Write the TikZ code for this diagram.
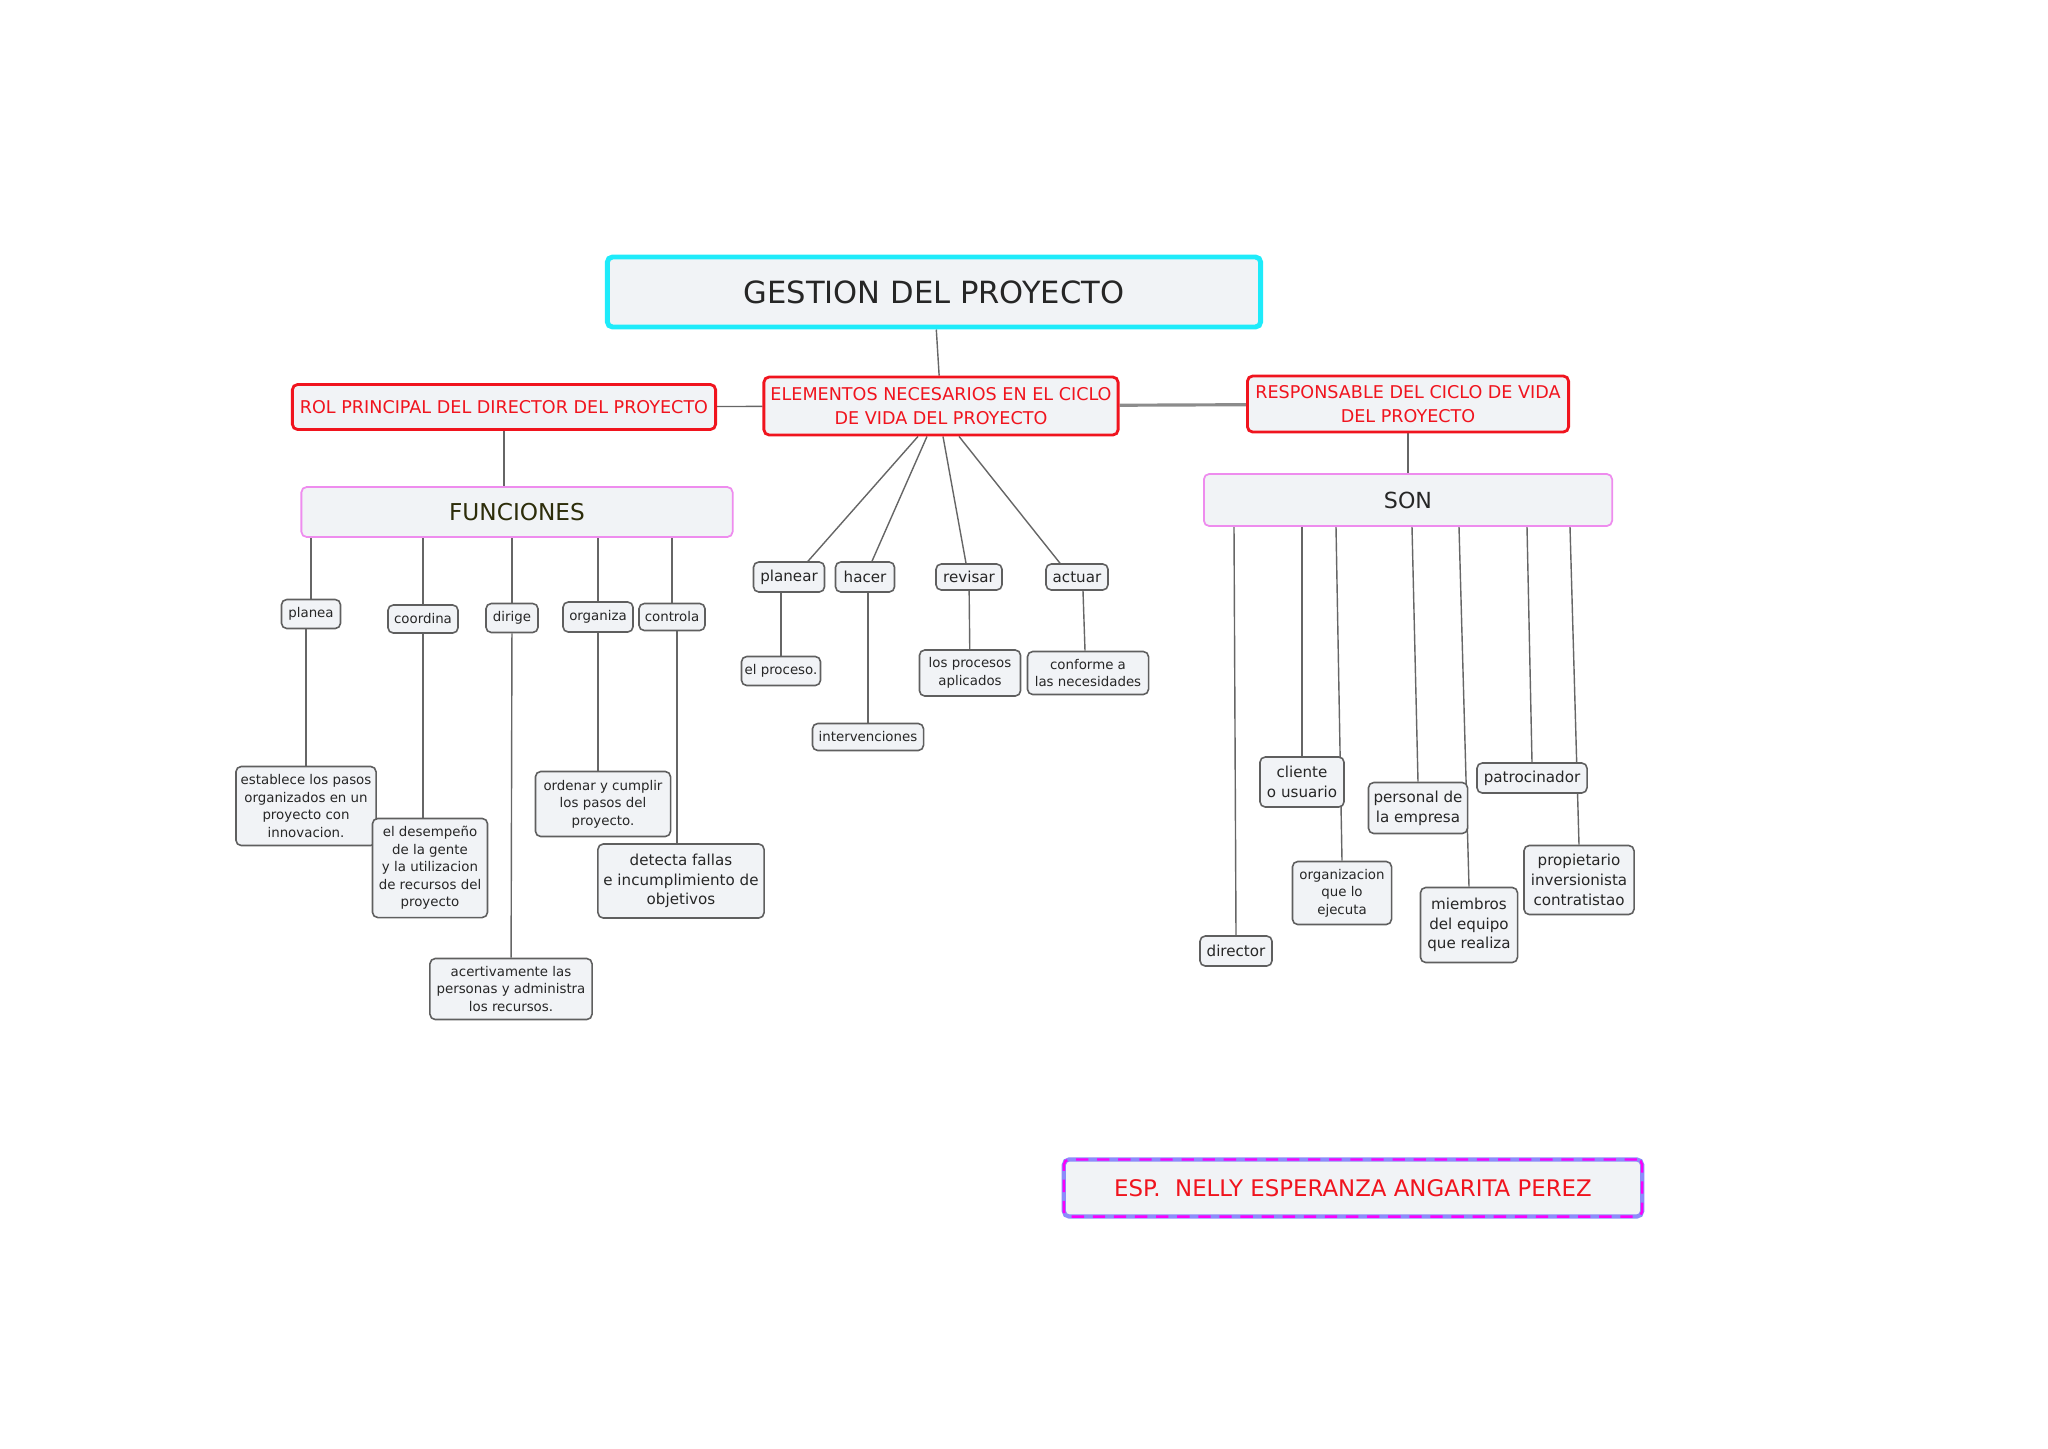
\documentclass[tikz,border=0pt]{standalone}
\usepackage{fontspec}
\setmainfont{DejaVu Sans}
\usepackage{xcolor}
\definecolor{mgfill}{RGB}{241,243,246}
\definecolor{mgline}{RGB}{95,95,95}
\definecolor{mgred}{RGB}{240,20,30}
\definecolor{mgcyan}{RGB}{30,235,250}
\definecolor{mgpink}{RGB}{238,140,238}
\definecolor{mgolive}{RGB}{45,45,10}
\definecolor{mgblue}{RGB}{140,140,250}
\definecolor{mgmagenta}{RGB}{250,0,250}
\usetikzlibrary{calc, backgrounds}

\begin{document}
\begin{tikzpicture}[x=0.01cm, y=-0.01cm,
    box/.style={draw=mgline, fill=mgfill, rounded corners=1.5pt, line width=0.45pt,
                align=center, inner sep=0pt, text=black!85},
    leaf/.style={box, font=\fontsize{3.8}{5}\selectfont},
    bigleaf/.style={box, font=\fontsize{4.3}{5.6}\selectfont},
    title/.style={box, draw=mgred, line width=0.8pt, text=mgred,
                  font=\fontsize{5}{6.7}\selectfont},
    group/.style={box, draw=mgpink, line width=0.5pt},
    link/.style={draw=black!60, line width=0.4pt}]

\useasboundingbox (0,0) rectangle (2048,1448);

% Main node
\node[box, draw=mgcyan, line width=1.4pt, font=\fontsize{8.7}{10}\selectfont,
      minimum width=6.53cm, minimum height=0.70cm] (gestion) at (934,292) {GESTION DEL PROYECTO};

% Red headings
\node[title, minimum width=3.54cm, minimum height=0.58cm] (elementos) at (941,406)
      {ELEMENTOS NECESARIOS EN EL CICLO\\DE VIDA DEL PROYECTO};
\node[title, minimum width=4.23cm, minimum height=0.45cm] (rol) at (504,407)
      {ROL PRINCIPAL DEL DIRECTOR DEL PROYECTO};
\node[title, minimum width=3.21cm, minimum height=0.56cm] (responsable) at (1408,404)
      {RESPONSABLE DEL CICLO DE VIDA\\DEL PROYECTO};

% Group nodes
\node[group, text=mgolive, font=\fontsize{6.6}{8}\selectfont,
      minimum width=4.31cm, minimum height=0.50cm] (funciones) at (517,512) {FUNCIONES};
\node[group, font=\fontsize{6.3}{8}\selectfont,
      minimum width=4.08cm, minimum height=0.52cm] (son) at (1408,500) {SON};

% Functions
\node[leaf, minimum width=0.59cm, minimum height=0.29cm] (planea) at (311,614) {planea};
\node[leaf, minimum width=0.70cm, minimum height=0.28cm] (coordina) at (423,619) {coordina};
\node[leaf, minimum width=0.52cm, minimum height=0.29cm] (dirige) at (512,618) {dirige};
\node[leaf, minimum width=0.70cm, minimum height=0.30cm] (organiza) at (598,617) {organiza};
\node[leaf, minimum width=0.66cm, minimum height=0.27cm] (controla) at (672,617) {controla};

\node[leaf, minimum width=1.40cm, minimum height=0.79cm] (establece) at (306,806)
      {establece los pasos\\organizados en un\\proyecto con\\innovacion.};
\node[leaf, minimum width=1.15cm, minimum height=0.99cm] (desempeno) at (430,868)
      {el desempeño\\de la gente\\y la utilizacion\\de recursos del\\proyecto};
\node[leaf, minimum width=1.62cm, minimum height=0.61cm] (acertivamente) at (511,989)
      {acertivamente las\\personas y administra\\los recursos.};
\node[leaf, minimum width=1.35cm, minimum height=0.65cm] (ordenar) at (603,804)
      {ordenar y cumplir\\los pasos del\\proyecto.};
\node[bigleaf, minimum width=1.66cm, minimum height=0.74cm] (detecta) at (681,881)
      {detecta fallas\\e incumplimiento de\\objetivos};

% Cycle steps
\node[bigleaf, minimum width=0.71cm, minimum height=0.30cm] (planear) at (789,577) {planear};
\node[bigleaf, minimum width=0.59cm, minimum height=0.30cm] (hacer) at (865,577) {hacer};
\node[bigleaf, minimum width=0.66cm, minimum height=0.26cm] (revisar) at (969,577) {revisar};
\node[bigleaf, minimum width=0.62cm, minimum height=0.26cm] (actuar) at (1077,577) {actuar};

\node[leaf, minimum width=0.79cm, minimum height=0.29cm] (proceso) at (781,671) {el proceso.};
\node[leaf, minimum width=1.11cm, minimum height=0.27cm] (intervenciones) at (868,737) {intervenciones};
\node[leaf, minimum width=1.01cm, minimum height=0.46cm] (procesos) at (970,673)
      {los procesos\\aplicados};
\node[leaf, minimum width=1.21cm, minimum height=0.43cm] (conforme) at (1088,673)
      {conforme a\\las necesidades};

% Responsibles
\node[bigleaf, minimum width=0.72cm, minimum height=0.30cm] (director) at (1236,951) {director};
\node[bigleaf, minimum width=0.84cm, minimum height=0.50cm] (cliente) at (1302,782)
      {cliente\\o usuario};
\node[leaf, minimum width=0.99cm, minimum height=0.63cm] (organizacion) at (1342,893)
      {organizacion\\que lo\\ejecuta};
\node[bigleaf, minimum width=0.99cm, minimum height=0.51cm] (personal) at (1418,808)
      {personal de\\la empresa};
\node[bigleaf, minimum width=0.97cm, minimum height=0.75cm] (miembros) at (1469,925)
      {miembros\\del equipo\\que realiza};
\node[bigleaf, minimum width=1.10cm, minimum height=0.30cm] (patrocinador) at (1532,778) {patrocinador};
\node[bigleaf, minimum width=1.10cm, minimum height=0.69cm] (propietario) at (1579,880)
      {propietario\\inversionista\\contratistao};

% Author
\node[box, draw=mgblue, line width=1.2pt, text=mgred, font=\fontsize{6.5}{8}\selectfont,
      minimum width=5.78cm, minimum height=0.57cm,
      postaction={draw=mgmagenta, line width=0.7pt, dash pattern=on 3.5pt off 2.5pt}]
      (autor) at (1353,1188) {ESP.\ \ NELLY ESPERANZA ANGARITA PEREZ};

% Connections
\begin{scope}[on background layer]
\draw[link] (gestion) -- (elementos);
\draw[link] (rol) -- (elementos);
\draw[link, draw=black!45, line width=0.9pt] (elementos) -- (responsable);
\draw[link] (rol.south) -- (rol.south |- funciones.north);
\draw[link] (responsable.south) -- (responsable.south |- son.north);

\draw[link] (funciones.south -| planea.north) -- (planea.north);
\draw[link] (funciones.south -| coordina.north) -- (coordina.north);
\draw[link] (funciones.south -| dirige.north) -- (dirige.north);
\draw[link] (funciones.south -| organiza.north) -- (organiza.north);
\draw[link] (funciones.south -| controla.north) -- (controla.north);

\draw[link] (planea.south -| establece) -- (establece.north);
\draw[link] (coordina.south) -- (coordina.south |- desempeno.north);
\draw[link] (dirige) -- (acertivamente);
\draw[link] (organiza.south) -- (organiza.south |- ordenar.north);
\draw[link] ($(controla.south)+(5,0)$) -- ($(detecta.north)+(-4,0)$);

\draw[link] ($(elementos.south)+(-23,0)$) -- ($(planear.north)+(19,0)$);
\draw[link] ($(elementos.south)+(-14,0)$) -- ($(hacer.north)+(7,0)$);
\draw[link] ($(elementos.south)+(2,0)$) -- ($(revisar.north)+(-3,0)$);
\draw[link] ($(elementos.south)+(18,0)$) -- ($(actuar.north)+(-17,0)$);

\draw[link] (planear.south -| proceso) -- (proceso.north);
\draw[link] (hacer.south -| intervenciones) -- (intervenciones.north);
\draw[link] (revisar) -- (procesos);
\draw[link] ($(actuar.south)+(6,0)$) -- ($(conforme.north)+(-3,0)$);

\draw[link] ($(son.south -| director)+(-2,0)$) -- (director.north);
\draw[link] (son.south -| cliente) -- (cliente.north);
\draw[link] ($(son.south -| organizacion)+(-6,0)$) -- (organizacion.north);
\draw[link] ($(son.south -| personal)+(-6,0)$) -- (personal.north);
\draw[link] ($(son.south -| miembros)+(-10,0)$) -- (miembros.north);
\draw[link] ($(son.south -| patrocinador)+(-5,0)$) -- (patrocinador.north);
\draw[link] ($(son.south -| propietario)+(-9,0)$) -- (propietario.north);
\end{scope}

\end{tikzpicture}
\end{document}
